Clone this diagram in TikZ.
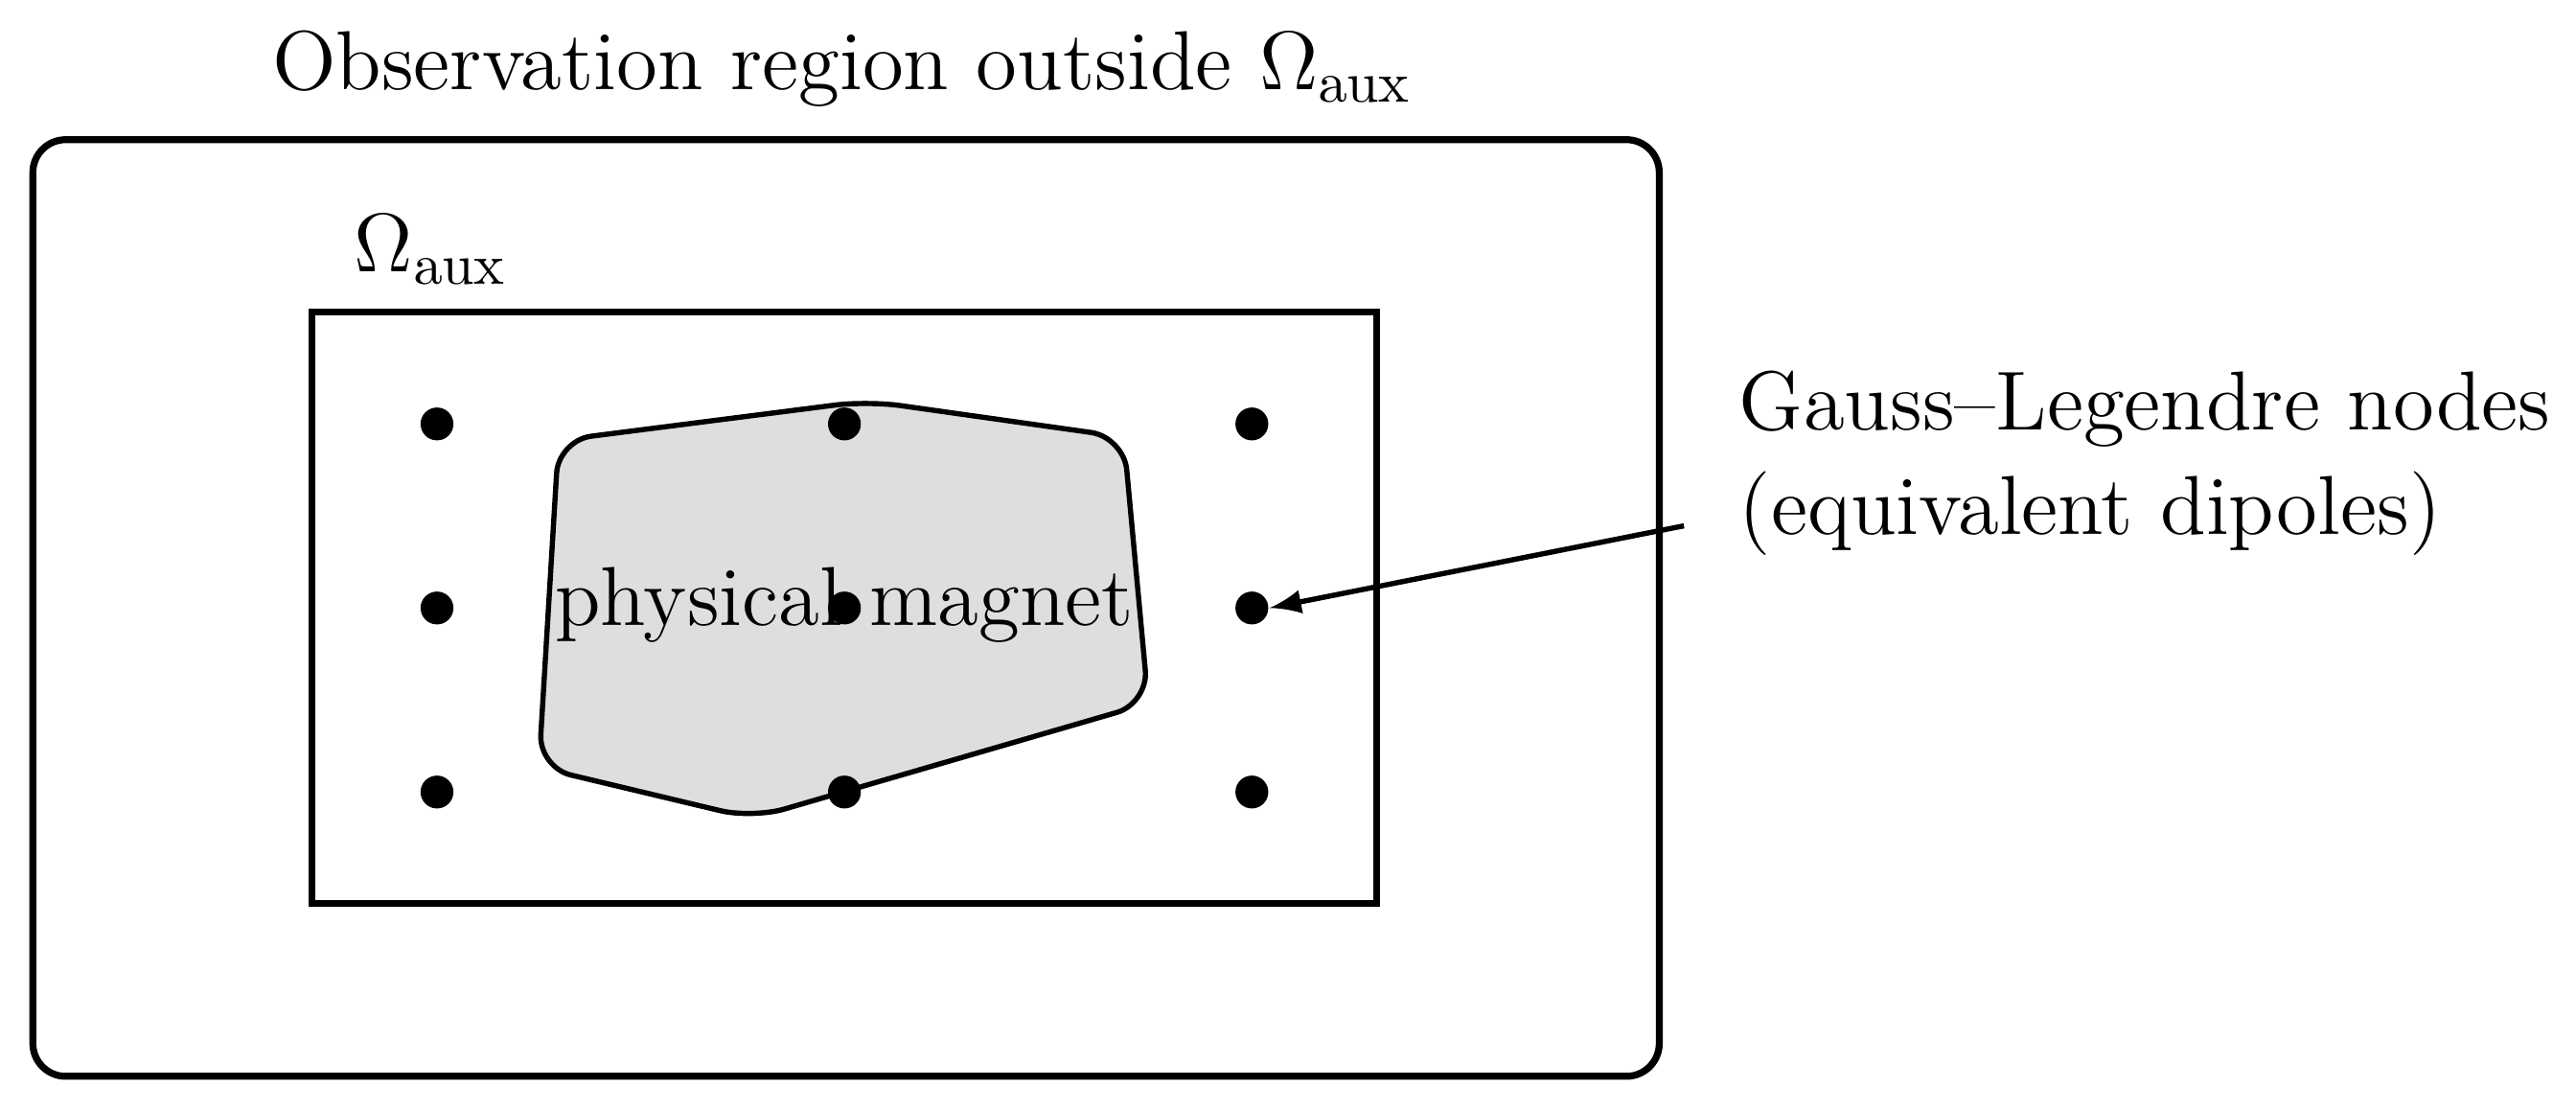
\documentclass[tikz,border=0pt]{standalone}
\begin{document}
\begin{tikzpicture}[x=0.1mm,y=-0.1mm,
  box/.style={draw,line width=1.2pt},
  dot/.style={circle,fill=black,inner sep=0pt,minimum size=2mm},
  lbl/.style={font=\fontsize{14.5}{18}\selectfont,inner sep=0pt}]
\useasboundingbox (0,0) rectangle (1568,675);
\node[box,rounded corners=2mm,minimum width=99mm,minimum height=57mm] (outer) at (515,370) {};
\node[box,minimum width=64.8mm,minimum height=36mm] (inner) at (514,370) {};
\filldraw[fill=black!13,line width=0.9pt,rounded corners=2mm]
  (340,268) -- (528,244) -- (684,266) -- (699,428) -- (458,498) -- (328,467) -- cycle;
\node[lbl] (mag) at (514,368) {physical magnet};
\foreach \i/\x in {1/266,2/514,3/762}
  \foreach \j/\y in {1/258,2/370,3/482}
    \node[dot] (d\i\j) at (\x,\y) {};
\node[lbl,anchor=west] (obs) at (165,42) {Observation region outside $\Omega_{\mathrm{aux}}$};
\node[lbl,anchor=west] (om) at (215,152) {$\Omega_{\mathrm{aux}}$};
\node[lbl,anchor=west,align=left] (gl) at (1058,282) {Gauss--Legendre nodes\\(equivalent dipoles)};
\coordinate (s) at (1025,320);
\draw[-latex,line width=0.9pt] (s) -- (d32.east);
\end{tikzpicture}
\end{document}
